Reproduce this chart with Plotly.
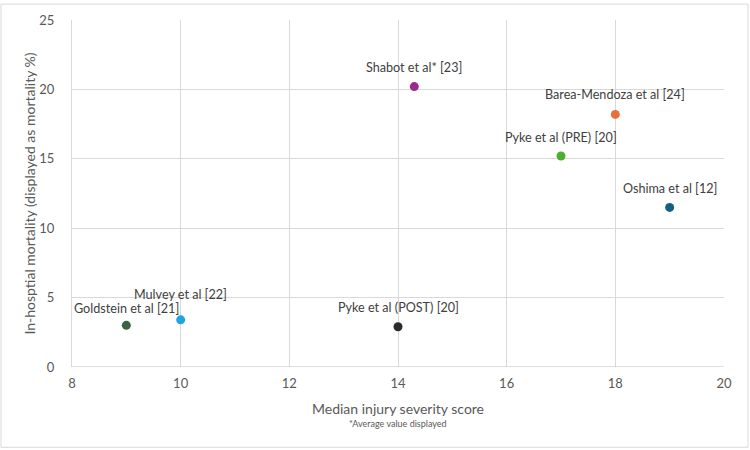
import plotly.graph_objects as go

studies = ["Goldstein et al [21]", "Mulvey et al [22]", "Pyke et al (POST) [20]",
           "Shabot et al* [23]", "Barea-Mendoza et al [24]", "Pyke et al (PRE) [20]",
           "Oshima et al [12]"]
iss = [9, 10, 14, 14.3, 18, 17, 19]
mortality = [3.0, 3.4, 2.9, 20.2, 18.2, 15.2, 11.5]
colors = ["#3b6342", "#1ea4e0", "#2b2b2b", "#9a2a8e", "#e86f3c", "#4fae31", "#135f86"]
label_dy = [17, 25, 19, 19, 20, 19, 19]

FONT = "Lato"
GRAY = "#595959"

fig = go.Figure()
fig.add_trace(go.Scatter(
    x=iss, y=mortality, mode="markers",
    marker=dict(size=9, color=colors),
    hovertext=studies, showlegend=False,
))
for name, x, y, dy in zip(studies, iss, mortality, label_dy):
    fig.add_annotation(x=x, y=y, text=name, showarrow=False,
                       yshift=dy, xanchor="center", yanchor="middle",
                       font=dict(family=FONT, size=12.6, color="#404040"))

fig.add_annotation(x=0.5, y=-0.163, xref="paper", yref="paper",
                   text="*Average value displayed", showarrow=False,
                   xanchor="center", yanchor="middle",
                   font=dict(family=FONT, size=9, color=GRAY))

l, r, t, b = 72, 26, 17, 83
W, H = 750, 450
pw, ph = W - l - r, H - t - b
fig.add_shape(type="rect", xref="paper", yref="paper",
              x0=(1 - l) / pw, x1=(W - 2 - l) / pw,
              y0=(H - b - (H - 2)) / ph, y1=(H - b - 1) / ph,
              line=dict(color="#d9d9d9", width=1))

fig.update_layout(
    width=W, height=H,
    margin=dict(l=l, r=r, t=t, b=b),
    paper_bgcolor="white", plot_bgcolor="white",
    font=dict(family=FONT, color=GRAY),
    xaxis=dict(range=[8, 20], dtick=2, showgrid=True, gridcolor="#d9d9d9",
               zeroline=False, showline=False, ticks="", ticklabelstandoff=7,
               tickfont=dict(size=13, color=GRAY),
               title=dict(text="Median injury severity score",
                          font=dict(size=14, color=GRAY), standoff=14)),
    yaxis=dict(range=[0, 25], dtick=5, showgrid=True, gridcolor="#d9d9d9",
               zeroline=False, showline=True, linecolor="#d9d9d9", ticks="",
               ticklabelstandoff=14,
               tickfont=dict(size=13, color=GRAY),
               title=dict(text="In-hosptial mortality (displayed as mortality %)",
                          font=dict(size=14, color=GRAY), standoff=0)),
)
fig.add_shape(type="line", xref="paper", yref="y", x0=0, x1=1, y0=0, y1=0,
              line=dict(color="#bfbfbf", width=1))

fig.write_html("out.html")
